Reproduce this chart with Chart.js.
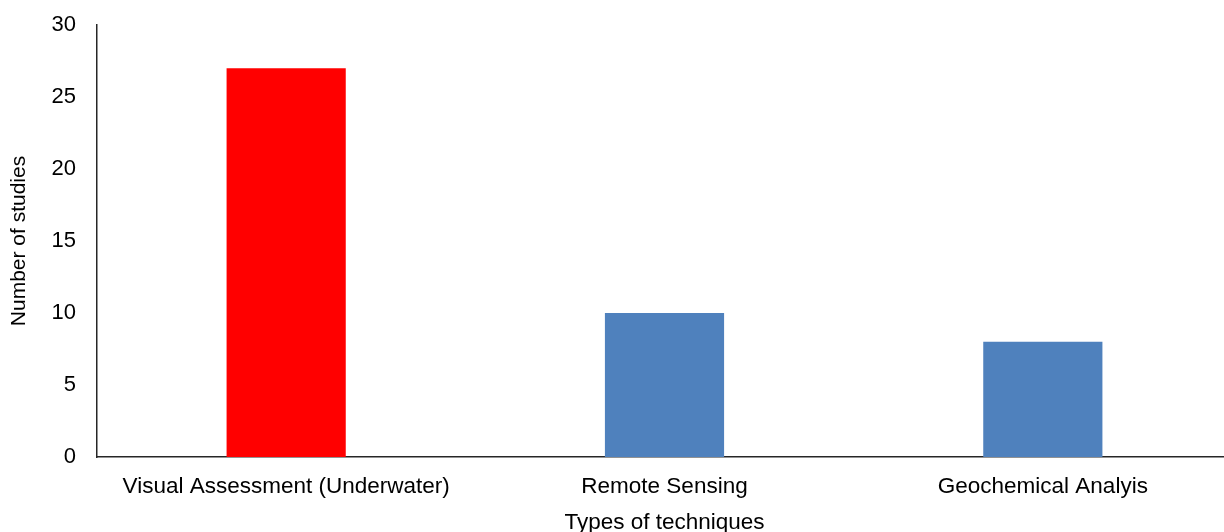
<!DOCTYPE html>
<html>
<head>
<meta charset="utf-8">
<script src="https://cdn.jsdelivr.net/npm/chart.js@4"></script>
<style>
  html, body { margin: 0; padding: 0; background: #fff; overflow: hidden; }
  #wrap { width: 1232px; height: 532px; }
</style>
</head>
<body>
<div id="wrap"><canvas id="c" width="1232" height="532"></canvas></div>
<script>
const categories = ['Visual Assessment (Underwater)', 'Remote Sensing', 'Geochemical Analyis'];
const studies = [27, 10, 8];
const barColors = ['#FF0000', '#4F81BD', '#4F81BD'];
const yTicks = [0, 5, 10, 15, 20, 25, 30];

const FONT = '"Liberation Sans", Arial, sans-serif';

new Chart(document.getElementById('c'), {
  type: 'bar',
  data: {
    labels: categories,
    datasets: [{
      data: studies,
      backgroundColor: barColors,
      borderWidth: 0,
      categoryPercentage: 1,
      barPercentage: 0.315
    }]
  },
  options: {
    responsive: false,
    animation: false,
    layout: { padding: { top: 25, right: 0, left: 0, bottom: 0 } },
    plugins: { legend: { display: false }, tooltip: { enabled: false } },
    scales: {
      x: {
        grid: { display: false, drawTicks: false },
        border: { display: true, color: '#262626', width: 1.5 },
        ticks: { color: '#000', font: { family: FONT, size: 22.5 }, padding: 16, maxRotation: 0 },
        title: { display: true, text: 'Types of techniques', color: '#000', font: { family: FONT, size: 22.5 }, padding: { top: 9, bottom: -4 } },
        afterFit(scale) { scale.height = 75; }
      },
      y: {
        min: 0, max: 30,
        afterBuildTicks(scale) { scale.ticks = yTicks.map(v => ({ value: v })); },
        grid: { display: false, drawTicks: false },
        border: { display: true, color: '#262626', width: 1.5 },
        ticks: { color: '#000', font: { family: FONT, size: 22 }, padding: 21 },
        title: { display: true, text: 'Number of studies', color: '#000', font: { family: FONT, size: 21 }, padding: { top: 7, bottom: 0 } },
        afterFit(scale) {
          scale.width = 97;
          scale.paddingTop = 0;
          scale.paddingBottom = 0;
        }
      }
    }
  }
});
</script>
</body>
</html>
